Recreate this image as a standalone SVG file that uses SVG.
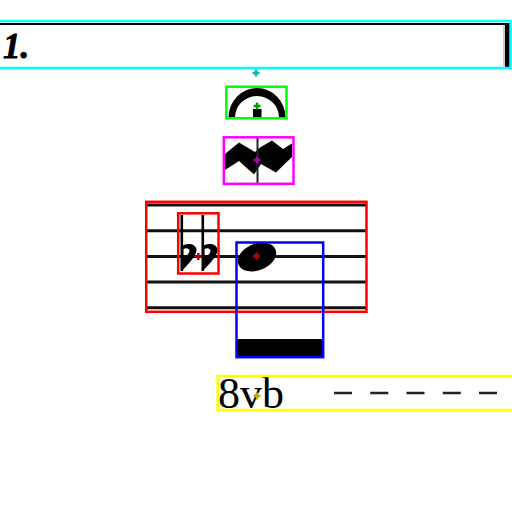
<svg xmlns="http://www.w3.org/2000/svg" width="512" height="512" viewBox="0 0 512 512">
<style>
.box{fill:none;stroke-width:2.5}
.cross{fill:none;stroke-width:2.5}
.ink{fill:#000}
.staff{stroke:#111;stroke-width:3}
</style>
<rect width="512" height="512" fill="#fff"/>

<g id="volta">
<path d="M-5,24 H507.5 V67" fill="none" stroke="#000" stroke-width="2.2"/>
<rect x="505" y="23" width="5" height="44" class="ink"/>
<line x1="504" y1="25" x2="504" y2="66" stroke="#999" stroke-width="1"/>
<text x="3" y="58" font-family="Liberation Serif, serif" font-weight="bold" font-style="italic" font-size="35" fill="#000" stroke="#000" stroke-width="0.8">1.</text>
<rect x="-5" y="21" width="515.5" height="47" class="box" stroke="#00ffff" stroke-width="3"/>
<path d="M256,69.5 V76.5 M252.5,73 H259.5" class="cross" stroke="#00b8b8"/>
</g>

<g id="fermata">
<path d="M228.5,117.5 A28.5,29.5 0 0 1 285.5,117.5 H279 A22,21.5 0 0 0 235,117.5 Z" class="ink"/>
<rect x="253" y="109" width="8.5" height="9" class="ink"/>
<rect x="226.3" y="86.7" width="60.2" height="31.6" class="box" stroke="#00ff00"/>
<path d="M257,102.5 V109.5 M253.5,106 H260.5" class="cross" stroke="#00a000"/>
</g>

<g id="mordent">
<polygon points="225,154 239,142.5 255,152 260,147.5 272,140.5 283,149 292,143.5 292,157 276,172.5 261,164 254,174.5 239,161 225,170" class="ink"/>
<line x1="257.5" y1="138" x2="257.5" y2="183" stroke="#222" stroke-width="2"/>
<rect x="223.8" y="137.3" width="69.7" height="46.5" class="box" stroke="#ff00ff"/>
<path d="M257,156.5 V163.5 M253.5,160 H260.5" class="cross" stroke="#b000b0"/>
</g>

<g id="staff">
<line x1="146" y1="205" x2="366" y2="205" class="staff"/>
<line x1="146" y1="230.7" x2="366" y2="230.7" class="staff"/>
<line x1="146" y1="256.4" x2="366" y2="256.4" class="staff"/>
<line x1="146" y1="282.1" x2="366" y2="282.1" class="staff"/>
<line x1="146" y1="307.8" x2="366" y2="307.8" class="staff"/>
<rect x="146.2" y="201.8" width="220.3" height="110" class="box" stroke="#ff0000"/>
</g>

<g id="double-flat">
<line x1="181.8" y1="215" x2="181.8" y2="271" stroke="#000" stroke-width="2.6"/>
<line x1="202.8" y1="215" x2="202.8" y2="271" stroke="#000" stroke-width="2.6"/>
<path fill-rule="evenodd" class="ink" d="M181,247 C184,243 196,242 196.5,250 C196,257 188,264 182,271 L181,271 Z M183.5,249 C186,247.5 189.5,248 189.5,251 C189,254 186,256 183.5,258 Z"/>
<path fill-rule="evenodd" class="ink" d="M202,247 C205,243 217,242 217.5,250 C217,257 209,264 203,271 L202,271 Z M204.5,249 C207,247.5 210.5,248 210.5,251 C210,254 207,256 204.5,258 Z"/>
<rect x="178.2" y="213.3" width="40.3" height="60.2" class="box" stroke="#ff0000"/>
<path d="M198.3,253 V260 M194.8,256.5 H201.8" class="cross" stroke="#c00000"/>
</g>

<g id="note">
<ellipse cx="257" cy="257" rx="20" ry="13.3" transform="rotate(-22 257 257)" class="ink"/>
<rect x="237" y="339" width="86" height="18" class="ink"/>
<rect x="236.5" y="242.5" width="86.7" height="114.7" class="box" stroke="#0000ff"/>
<path d="M256.5,252.5 V259.5 M253,256 H260" class="cross" stroke="#c00000"/>
</g>

<g id="ottava">
<text x="218" y="408" font-family="Liberation Serif, serif" font-size="44" fill="#000">8vb</text>
<line x1="334" y1="393" x2="498" y2="393" stroke="#222" stroke-width="2.5" stroke-dasharray="18 18.25"/>
<rect x="217.7" y="376" width="300" height="34" class="box" stroke="#ffff00"/>
<path d="M257,392.5 V399.5 M253.5,396 H260.5" class="cross" stroke="#b0b000"/>
</g>
</svg>
